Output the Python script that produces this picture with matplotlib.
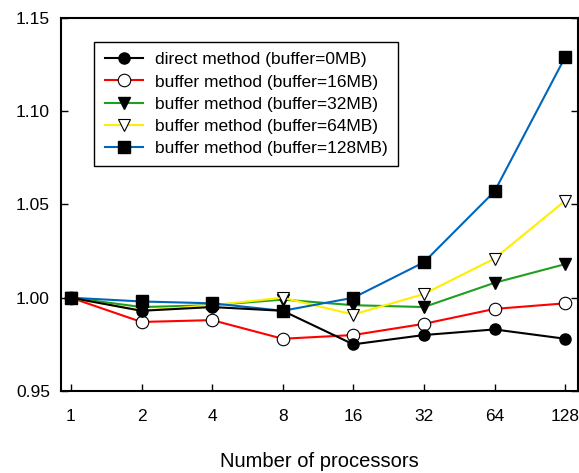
import matplotlib
matplotlib.use("Agg")
import matplotlib.pyplot as plt
import numpy as np

plt.rcParams['font.family'] = ['Liberation Sans', 'DejaVu Sans']

procs = [1, 2, 4, 8, 16, 32, 64, 128]
direct_0 = [1.000, 0.993, 0.995, 0.993, 0.975, 0.980, 0.983, 0.978]
buf_16 = [1.000, 0.987, 0.988, 0.978, 0.980, 0.986, 0.994, 0.997]
buf_32 = [1.000, 0.995, 0.996, 0.999, 0.996, 0.995, 1.008, 1.018]
buf_64 = [1.000, 0.993, 0.996, 1.000, 0.991, 1.002, 1.021, 1.052]
buf_128 = [1.000, 0.998, 0.997, 0.993, 1.000, 1.019, 1.057, 1.129]
labels = ["direct method (buffer=0MB)", "buffer method (buffer=16MB)",
          "buffer method (buffer=32MB)", "buffer method (buffer=64MB)",
          "buffer method (buffer=128MB)"]
yticks = [0.95, 1.00, 1.05, 1.10, 1.15]

fig = plt.figure(figsize=(5.79, 4.73), dpi=100)
ax = fig.add_axes([0.1054, 0.1734, 0.8926, 0.7886])
x = np.arange(len(procs))

ax.plot(x, direct_0, color='black', lw=1.5, marker='o', ms=8, mfc='black', mec='black', label=labels[0], zorder=8)
ax.plot(x, buf_16, color='#ff0000', lw=1.5, marker='o', ms=9, mfc='white', mec='black', mew=0.8, label=labels[1], zorder=4)
ax.plot(x, buf_32, color='#1f9e1f', lw=1.5, marker='v', ms=8, mfc='black', mec='black', label=labels[2], zorder=5)
ax.plot(x, buf_64, color='#ffee00', lw=1.5, marker='v', ms=9, mfc='white', mec='black', mew=0.8, label=labels[3], zorder=6)
ax.plot(x, buf_128, color='#0066bb', lw=1.5, marker='s', ms=9, mfc='black', mec='black', label=labels[4], zorder=7)

ax.set_xlim(-0.14, 7.18)
ax.set_ylim(0.95, 1.15)
ax.set_xticks(x)
ax.set_xticklabels([str(p) for p in procs], fontsize=12.5)
ax.set_yticks(yticks)
ax.set_yticklabels([f"{v:.2f}" for v in yticks], fontsize=12.5)
ax.tick_params(axis='both', direction='in', length=5, width=1)
ax.tick_params(axis='y', right=True, pad=8)
ax.tick_params(axis='x', pad=13)
for s in ax.spines.values():
    s.set_linewidth(1.5)
ax.set_xlabel("Number of processors", fontsize=14.5, labelpad=20)

leg = ax.legend(loc='upper left', bbox_to_anchor=(0.064, 0.936), fontsize=12.5,
                frameon=True, fancybox=False, edgecolor='black', framealpha=1,
                handlelength=2.2, borderpad=0.6, labelspacing=0.4, handletextpad=0.7,
                borderaxespad=0)
leg.get_frame().set_linewidth(1.0)

fig.savefig("out.png", dpi=100)
